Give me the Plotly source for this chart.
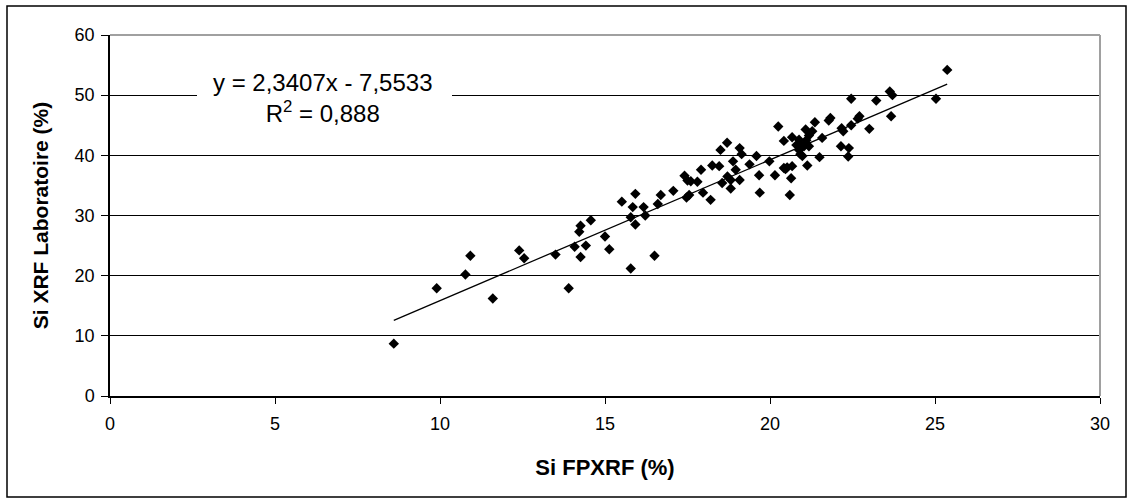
import plotly.graph_objects as go

# Data (Si FPXRF %, Si XRF Laboratoire %)
si_fpxrf = [
    8.6, 9.9, 10.77, 10.92, 11.6, 12.4, 12.55, 13.5, 13.9, 14.08,
    14.26, 14.22, 14.42, 14.26, 14.57, 15.0, 15.13, 15.78, 16.5, 15.51,
    15.92, 15.84, 16.17, 15.78, 15.92, 16.22, 16.69, 16.6, 17.07, 17.41,
    17.5, 17.8, 17.47, 17.97, 18.2, 17.91, 18.25, 18.46, 18.55, 18.81,
    19.08, 18.81, 18.96, 18.88, 18.5, 18.7, 19.08, 19.14, 19.38, 19.59,
    19.98, 19.67, 20.15, 19.69, 20.6, 20.25, 20.42, 20.67, 20.88, 21.08,
    21.28, 21.18, 21.36, 21.58, 21.03, 20.88, 20.98, 21.13, 20.67, 20.47,
    20.64, 21.5, 21.83, 21.78, 22.17, 22.22, 22.15, 22.39, 22.37, 22.46,
    22.46, 22.66, 22.71, 23.01, 23.22, 23.63, 23.71, 23.67, 25.03, 25.37,
    20.9, 21.1, 20.8, 18.71, 20.42, 17.6, 20.92, 20.52, 17.55, 21.18,
]
si_xrf_lab = [
    8.7, 17.9, 20.2, 23.3, 16.2, 24.2, 22.9, 23.5, 17.9, 24.8,
    28.3, 27.3, 25.0, 23.1, 29.2, 26.5, 24.4, 21.2, 23.3, 32.3,
    33.6, 31.4, 31.4, 29.7, 28.5, 30.0, 33.4, 31.9, 34.1, 36.6,
    35.8, 35.6, 33.0, 33.8, 32.6, 37.6, 38.3, 38.2, 35.4, 35.9,
    35.9, 34.5, 37.6, 39.0, 40.9, 42.1, 41.2, 40.2, 38.5, 39.9,
    39.0, 36.7, 36.7, 33.8, 33.4, 44.8, 42.4, 43.0, 42.6, 44.3,
    44.0, 43.3, 45.5, 42.9, 41.5, 40.9, 39.9, 38.3, 38.2, 37.7,
    36.2, 39.7, 46.2, 45.8, 44.5, 44.0, 41.5, 41.2, 39.8, 49.4,
    45.0, 46.1, 46.5, 44.4, 49.1, 50.6, 50.0, 46.5, 49.4, 54.2,
    42.0, 42.5, 41.7, 36.5, 37.9, 35.7, 40.2, 38.0, 33.4, 41.5,
]

# Regression stated on the chart
slope = 2.3407
intercept = -7.5533
r_squared = "0,888"

x_ticks = [0, 5, 10, 15, 20, 25, 30]
y_ticks = [0, 10, 20, 30, 40, 50, 60]

FONT = "Liberation Sans, Arial, Helvetica, sans-serif"

x_min, x_max = min(si_fpxrf), max(si_fpxrf)
trend_x = [x_min, x_max]
trend_y = [slope * v + intercept for v in trend_x]

fig = go.Figure()
fig.add_trace(go.Scatter(
    x=trend_x, y=trend_y, mode="lines",
    line=dict(color="black", width=1.3), hoverinfo="skip", showlegend=False,
))
fig.add_trace(go.Scatter(
    x=si_fpxrf, y=si_xrf_lab, mode="markers",
    marker=dict(symbol="diamond", size=8, color="black", line=dict(width=0)),
    showlegend=False,
))

slope_txt = ("%.4f" % slope).replace(".", ",")
icpt_txt = ("%.4f" % -intercept).replace(".", ",")
eq_text = "y = " + slope_txt + "x - " + icpt_txt + "<br>R<sup>2</sup> = " + r_squared

W, H = 1128, 498
L, R, T, B = 110, 28, 35, 102
pw, ph = W - L - R, H - T - B


def px_to_paper_x(px):
    return (px - L) / pw


def px_to_paper_y(py):
    return 1 - (py - T) / ph


fig.update_layout(
    width=W, height=H,
    margin=dict(l=L, r=R, t=T, b=B),
    paper_bgcolor="white", plot_bgcolor="white",
    font=dict(family=FONT, color="black"),
    xaxis=dict(
        range=[0, 30], tickvals=x_ticks, ticktext=[str(v) for v in x_ticks],
        showgrid=False, zeroline=False,
        showline=True, linecolor="black", linewidth=1.5,
        ticks="outside", ticklen=6, tickcolor="black", tickwidth=1,
        ticklabelstandoff=5,
        tickfont=dict(size=18, family=FONT),
        title=dict(text="<b>Si FPXRF (%)</b>", font=dict(size=22, family=FONT), standoff=26),
    ),
    yaxis=dict(
        range=[0, 60], tickvals=y_ticks, ticktext=[str(v) for v in y_ticks],
        showgrid=True, gridcolor="black", gridwidth=1.2, zeroline=False,
        showline=True, linecolor="black", linewidth=1.5,
        ticks="outside", ticklen=7, tickcolor="black", tickwidth=1,
        ticklabelstandoff=3,
        tickfont=dict(size=18, family=FONT),
        title=dict(text="<b>Si XRF Laboratoire (%)</b>", font=dict(size=21, family=FONT), standoff=20),
    ),
    shapes=[
        # plot-area top and right borders (grey)
        dict(type="line", xref="paper", yref="paper", x0=0, x1=1, y0=1, y1=1,
             line=dict(color="#a0a0a0", width=2), layer="above"),
        dict(type="line", xref="paper", yref="paper", x0=1, x1=1, y0=0, y1=1,
             line=dict(color="#a0a0a0", width=2), layer="above"),
        # white box behind the equation label
        dict(type="rect", xref="paper", yref="paper",
             x0=px_to_paper_x(197), x1=px_to_paper_x(452),
             y0=px_to_paper_y(130), y1=px_to_paper_y(64),
             fillcolor="white", line=dict(width=0), layer="above"),
        # outer chart frame
        dict(type="rect", xref="paper", yref="paper",
             x0=px_to_paper_x(7), x1=px_to_paper_x(1126),
             y0=px_to_paper_y(497), y1=px_to_paper_y(6),
             line=dict(color="black", width=1.5), fillcolor="rgba(0,0,0,0)", layer="above"),
    ],
    annotations=[dict(
        xref="paper", yref="paper",
        x=px_to_paper_x(323), y=px_to_paper_y(98),
        text=eq_text, showarrow=False, align="center",
        xanchor="center", yanchor="middle",
        font=dict(size=24, family=FONT, color="black"),
    )],
)

fig.write_html("out.html", config={"displayModeBar": False},
               post_script="document.body.style.margin='0px';")
